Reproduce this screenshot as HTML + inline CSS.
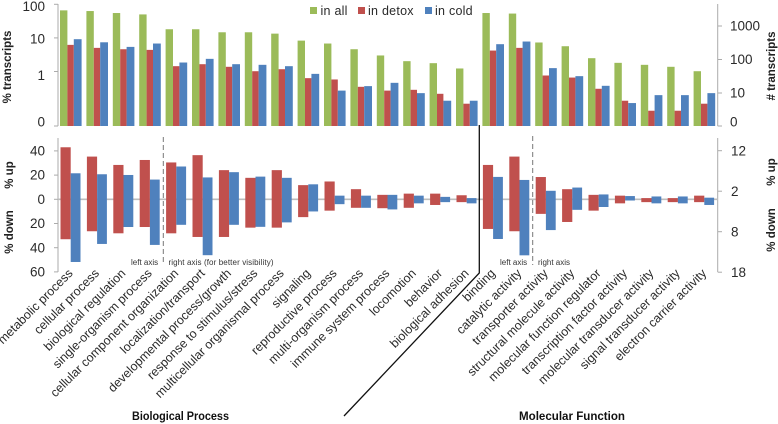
<!DOCTYPE html>
<html>
<head>
<meta charset="utf-8">
<title>GO category chart</title>
<style>
html,body{margin:0;padding:0;background:#fff;width:778px;height:424px;overflow:hidden}
svg{display:block;font-family:"Liberation Sans",sans-serif;filter:blur(0.35px)}
</style>
</head>
<body>
<svg id="chart" xmlns="http://www.w3.org/2000/svg" width="778" height="424" viewBox="0 0 778 424"></svg>
<script>
const categories = ["metabolic process","cellular process","biological regulation","single-organism process","cellular component organization","localization/transport","developmental process/growth","response to stimulus/stress","multicellular organismal process","signaling","reproductive process","multi-organism process","immune system process","locomotion","behavior","biological adhesion","binding","catalytic activity","transporter activity","structural molecule activity","molecular function regulator","transcription factor activity","molecular transducer activity","signal transducer activity","electron carrier activity"];
const inAll = [66,63,55,50,18.1,18.1,14.7,14.7,13.4,8.3,6.8,4.6,3.0,2.03,1.77,1.23,55,53,7.3,5.65,2.49,1.81,1.58,1.38,1.02];
const inDetox = [6.2,5.05,4.6,4.4,1.44,1.65,1.38,1.02,1.17,0.634,0.579,0.35,0.27,0.285,0.217,0.11,4.2,5.05,0.76,0.66,0.306,0.135,0.068,0.068,0.11];
const inCold = [9.15,7.4,5.4,6.8,1.85,2.38,1.65,1.58,1.44,0.85,0.27,0.367,0.46,0.227,0.135,0.135,6.5,7.8,1.26,0.727,0.375,0.115,0.198,0.198,0.227];
const detoxUp = [43,35.3,28.4,32.5,9.1,10.9,7.2,5.3,7.2,3.5,4.4,2.5,1.1,1.4,1.4,1,28.4,35.3,5.5,2.5,1.1,0.9,0.3,0.3,0.9];
const detoxDown = [33,26.4,28.1,22.9,8.4,9.3,9.3,7,7,4.4,2.8,2.1,2.2,2.1,1.4,0.7,24.5,26.4,3.6,5.6,2.8,1,0.7,0.7,0.7];
const coldUp = [21.5,20.7,20.1,16.3,8.1,5.4,6.7,5.6,5.3,3.7,0.9,0.9,1.1,0.9,0.6,0.3,18.5,16,2.1,2.9,1.2,0.8,0.7,0.7,0.4];
const coldDown = [51.8,36.9,22.9,37.7,6.3,13.8,6.3,6.8,5.7,3,1.2,2.1,2.5,1,0.7,1,32.8,46.3,7.6,2.6,1.9,0.3,1,1,1.4];
const axisSide = ["L","L","L","L","R","R","R","R","R","R","R","R","R","R","R","R","L","L","R","R","R","R","R","R","R"];
const topLeftTicks = [100,10,1];
const topLeftLabels = ["100","10","1"];
const topRightTicks = [1000,100,10];
const topRightLabels = ["1000","100","10"];
const lowLeftUpTicks = [40,20,0];
const lowLeftDownTicks = [20,40,60];
const lowRightUpTicks = [12,2];
const lowRightDownTicks = [8,18];

const svg = document.getElementById('chart');
const NS = 'http://www.w3.org/2000/svg';
const GREEN = '#9BBB59', RED = '#C0504D', BLUE = '#4F81BD', GRAY = '#ABABAB', INK = '#2a2a2a';

function make(tag, attrs, text) {
  const el = document.createElementNS(NS, tag);
  for (const k in attrs) el.setAttribute(k, attrs[k]);
  if (text !== undefined) el.textContent = text;
  svg.appendChild(el);
  return el;
}
const BASE_Y = 126;
function yLogLeft(v) { return 71.5 - Math.log10(v) * 33.6; }
function yLogRight(v) { return 93 - (Math.log10(v) - 1) * 33.5; }
const ZERO_Y = 199.3;
function yLowLeft(v) { return ZERO_Y - v * 1.21; }
function yLowRight(v) { return ZERO_Y - v * 4.05; }
function xGroup(i) { return 60 + i * 26.4; }

/* axes */
let el;
el = make('line', {x1:58,y1:4,x2:58,y2:BASE_Y,stroke:GRAY,'stroke-width':1});


el = make('line', {x1:717.7,y1:4,x2:717.7,y2:BASE_Y,stroke:GRAY,'stroke-width':1});


el = make('line', {x1:58,y1:138,x2:58,y2:272,stroke:GRAY,'stroke-width':1});


el = make('line', {x1:717.7,y1:138,x2:717.7,y2:272,stroke:GRAY,'stroke-width':1});


el = make('line', {x1:58,y1:ZERO_Y,x2:718,y2:ZERO_Y,stroke:'#BDBDBD','stroke-width':1.6});



function tick(x1, x2, y, name) {
  const t = make('line', {x1:x1,y1:y,x2:x2,y2:y,stroke:GRAY,'stroke-width':1});
  
  
}
function tickText(x, y, anchor, s, name) {
  const t = make('text', {x:x,y:y + 4.6,'text-anchor':anchor,'font-size':13.5,fill:INK}, s);
  
  
}
/* hand nudges for labels that sit off their tick in the source */
const leftNudge = [2, 1, 4];
topLeftTicks.forEach(function (v, i) {
  tick(54, 58, yLogLeft(v), 'top-left-tick');
  tickText(45, yLogLeft(v) + leftNudge[i], 'end', topLeftLabels[i], 'top-left-tick-label');
});
tick(54, 58, BASE_Y, 'top-left-tick');
tickText(45, BASE_Y - 4, 'end', '0', 'top-left-tick-label');
topRightTicks.forEach(function (v, i) {
  tick(717.7, 722, yLogRight(v), 'top-right-tick');
  tickText(730, yLogRight(v), 'start', topRightLabels[i], 'top-right-tick-label');
});
tick(717.7, 722, BASE_Y, 'top-right-tick');
tickText(730, BASE_Y - 4, 'start', '0', 'top-right-tick-label');
lowLeftUpTicks.forEach(function (v) {
  tick(54, 58, yLowLeft(v), 'lower-left-tick');
  tickText(45, yLowLeft(v), 'end', String(v), 'lower-left-tick-label');
});
lowLeftDownTicks.forEach(function (v) {
  tick(54, 58, yLowLeft(-v), 'lower-left-tick');
  tickText(45, yLowLeft(-v), 'end', String(v), 'lower-left-tick-label');
});
lowRightUpTicks.forEach(function (v) {
  tick(717.7, 722, yLowRight(v), 'lower-right-tick');
  tickText(731, yLowRight(v), 'start', String(v), 'lower-right-tick-label');
});
lowRightDownTicks.forEach(function (v) {
  tick(717.7, 722, yLowRight(-v), 'lower-right-tick');
  tickText(731, yLowRight(-v), 'start', String(v), 'lower-right-tick-label');
});

/* top log bars */
categories.forEach(function (c, i) {
  const x = xGroup(i);
  const g = make('rect', {x:x,y:yLogLeft(inAll[i]),width:7.4,height:BASE_Y - yLogLeft(inAll[i]),fill:GREEN});
  
  
  const r = make('rect', {x:x + 7.4,y:yLogLeft(inDetox[i]),width:6.4,height:BASE_Y - yLogLeft(inDetox[i]),fill:RED});
  
  
  const b = make('rect', {x:x + 13.8,y:yLogLeft(inCold[i]),width:7.8,height:BASE_Y - yLogLeft(inCold[i]),fill:BLUE});
  
  
});

/* lower up/down bars */
categories.forEach(function (c, i) {
  const scale = axisSide[i] === 'L' ? yLowLeft : yLowRight;
  const x = xGroup(i) + 0.5;
  const rTop = scale(detoxUp[i]), rBot = scale(-detoxDown[i]);
  const bTop = scale(coldUp[i]), bBot = scale(-coldDown[i]);
  const r = make('rect', {x:x,y:rTop,width:10.2,height:rBot - rTop,fill:RED});
  
  
  const b = make('rect', {x:x + 10.2,y:bTop,width:9.8,height:bBot - bTop,fill:BLUE});
  
  
});

/* category labels */
categories.forEach(function (c, i) {
  const ax = xGroup(i) + 13.5;
  const t = make('text', {x:ax,y:274,'text-anchor':'end','font-size':12.4,fill:INK,transform:'rotate(-45 ' + ax + ' 274)'}, c);
  
  
});
</script>
<script>
/* static annotations */
(function () {
  const s = document.getElementById('chart');
  s.insertAdjacentHTML('beforeend', `
  <g>
    <rect x="310" y="7" width="7" height="7" fill="#9BBB59"/>
    <text x="320.5" y="15" font-size="12.5" letter-spacing=".25" fill="#2a2a2a">in all</text>
    <rect x="358" y="7" width="7" height="7" fill="#C0504D"/>
    <text x="368" y="15" font-size="12.5" letter-spacing=".25" fill="#2a2a2a">in detox</text>
    <rect x="425" y="7" width="7" height="7" fill="#4F81BD"/>
    <text x="435" y="15" font-size="12.5" letter-spacing=".25" fill="#2a2a2a">in cold</text>
  </g>
  <text transform="translate(11 67) rotate(-90)" text-anchor="middle" font-size="11.5" font-weight="bold" fill="#222">% transcripts</text>
  <text transform="translate(775 66) rotate(-90)" text-anchor="middle" font-size="11.5" font-weight="bold" fill="#222"># transcripts</text>
  <text transform="translate(13 175) rotate(-90)" text-anchor="middle" font-size="11.5" font-weight="bold" fill="#222">% up</text>
  <text transform="translate(13 232) rotate(-90)" text-anchor="middle" font-size="11.5" font-weight="bold" fill="#222">% down</text>
  <text transform="translate(775 172) rotate(-90)" text-anchor="middle" font-size="11.5" font-weight="bold" fill="#222">% up</text>
  <text transform="translate(775 230) rotate(-90)" text-anchor="middle" font-size="11.5" font-weight="bold" fill="#222">% down</text>
  <line x1="163.3" y1="137" x2="163.3" y2="265" stroke="#777" stroke-width="1" stroke-dasharray="5 3"/>
  <line x1="532.7" y1="136" x2="532.7" y2="265" stroke="#777" stroke-width="1" stroke-dasharray="5 3"/>
  <text x="131" y="265" font-size="8" fill="#333">left axis</text>
  <text x="168.5" y="265" font-size="8" textLength="105" fill="#333">right axis (for better visibility)</text>
  <text x="500" y="265" font-size="8" fill="#333">left axis</text>
  <text x="538" y="265" font-size="8" fill="#333">right axis</text>
  <polyline points="479.3,125 479.3,273 344,416" fill="none" stroke="#111" stroke-width="1.3"/>
  <text x="132" y="420" font-size="11.5" font-weight="bold" textLength="97" lengthAdjust="spacingAndGlyphs" fill="#111">Biological Process</text>
  <text x="519" y="420" font-size="11.5" font-weight="bold" textLength="106" lengthAdjust="spacingAndGlyphs" fill="#111">Molecular Function</text>
  `);
})();
</script>
</body>
</html>
